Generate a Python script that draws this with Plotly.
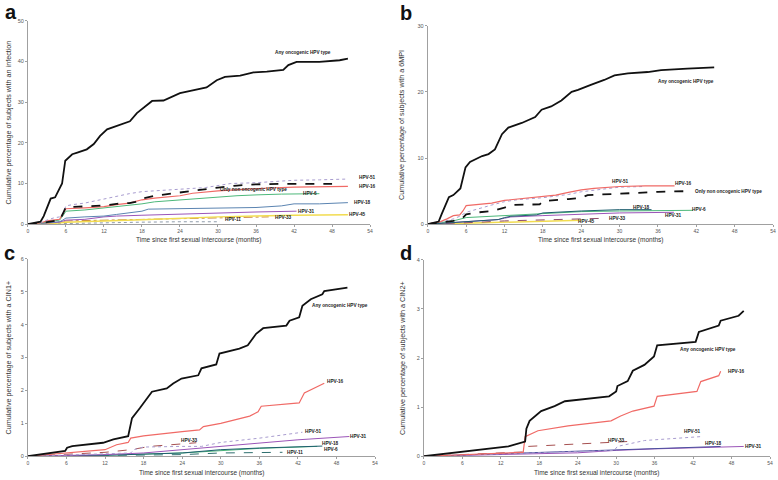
import plotly.graph_objects as go

# ---------------- Panel a: any infection ----------------
a_any_x = [0, 2, 2.5, 3, 3.6, 4.3, 4.9, 5.4, 5.9, 6.2, 7, 7.8, 9.3, 10.4, 11.4, 12.5, 13.5, 15.1, 16.1, 17.2, 18.8, 19.6, 21.4, 23, 24, 25.1, 28.2, 29.8, 31.1, 33.5, 35.6, 37.7, 40.3, 41.1, 42.4, 46, 49.2, 50.5]
a_any_y = [0, 0.6, 2, 4.2, 6.3, 6.6, 8.3, 10, 15.6, 16, 17.2, 17.6, 18.4, 19.7, 21.7, 23.3, 23.9, 24.7, 25.3, 27.3, 29.4, 30.3, 30.4, 31.4, 32.2, 32.6, 33.6, 35.4, 36.2, 36.5, 37.3, 37.5, 37.9, 39.1, 39.9, 39.9, 40.3, 40.7]
a_51_x = [0, 2, 3, 4, 5, 5.5, 6, 7, 9, 12, 14, 16, 18, 20, 24, 28, 30, 32, 36, 40, 42, 46, 50.5]
a_51_y = [0, 0.3, 1, 1.5, 1.8, 2.5, 4.5, 4.8, 5.2, 6.2, 7, 7.5, 8, 8.2, 8.5, 9, 9.5, 10, 10.2, 10.5, 10.8, 10.9, 11.1]
a_non_x = [0, 2, 3, 5, 5.5, 6, 8, 10, 12, 14, 16, 17, 18, 20, 22, 24, 26, 28, 30, 33, 36, 40, 48]
a_non_y = [0, 0.2, 0.5, 1, 2.5, 4.2, 4.3, 4.4, 4.6, 5, 5.2, 5.5, 6.3, 7, 7.4, 7.8, 8.3, 8.6, 9, 9.5, 9.8, 9.9, 9.9]
a_16_x = [0, 2, 3, 5, 5.5, 6, 9, 12, 14, 16, 18, 20, 24, 26, 30, 34, 38, 42, 46, 50.5]
a_16_y = [0, 0.3, 0.8, 1.2, 2.5, 3.8, 4, 4.3, 4.8, 5.2, 6, 6.4, 7, 7.6, 8.2, 8.6, 8.9, 9.1, 9.2, 9.3]
a_6_x = [0, 2, 3, 5, 5.5, 6, 9, 12, 16, 18, 20, 24, 27, 30, 33, 36, 40, 46]
a_6_y = [0, 0.2, 0.6, 1, 2, 3.2, 3.5, 4, 4.5, 5, 5.5, 6, 6.4, 6.8, 7, 7.2, 7.4, 7.5]
a_18_x = [0, 3, 5, 5.5, 6, 9, 12, 14, 16, 18, 19, 24, 30, 36, 40, 42, 46, 50.5]
a_18_y = [0, 0.3, 0.6, 1, 1.5, 1.8, 2, 2.4, 2.8, 3.2, 3.7, 3.8, 3.9, 4.1, 4.5, 5, 5, 5.3]
a_31_x = [0, 3, 5, 6, 9, 12, 14, 18, 24, 30, 36, 42.4]
a_31_y = [0, 0.2, 0.5, 1, 1.2, 1.8, 2, 2.2, 2.5, 2.8, 3, 3.2]
a_45_x = [0, 4, 6, 9, 12, 18, 24, 30, 36, 42, 50.5]
a_45_y = [0, 0.2, 0.5, 0.7, 0.8, 1.1, 1.5, 1.8, 2, 2.2, 2.3]
a_33_x = [0, 4, 6, 12, 18, 24, 30, 38]
a_33_y = [0, 0.3, 0.8, 1, 1.3, 1.5, 1.7, 1.8]
a_11_x = [0, 6, 12, 18, 24, 30.3]
a_11_y = [0, 0.2, 0.4, 0.5, 0.6, 0.6]

# ---------------- Panel b: 6MPI ----------------
b_any_x = [0, 1.7, 2.2, 3.3, 4, 5.1, 5.9, 6.6, 8.5, 9.5, 10.5, 11.6, 12.6, 14.7, 16.8, 17.8, 19.3, 20.9, 22.5, 23.5, 25.6, 27.6, 29.2, 31.3, 34.4, 36.5, 40.6, 44.8]
b_any_y = [0, 0.4, 1.6, 4.1, 4.4, 5.4, 8.6, 9.4, 10.3, 10.6, 11.3, 13.6, 14.6, 15.3, 16.2, 17.3, 17.8, 18.7, 20.0, 20.3, 21.1, 21.8, 22.5, 22.8, 23.0, 23.3, 23.5, 23.7]
b_16_x = [0, 2, 3, 4, 5, 5.5, 6, 8, 10, 12, 14, 16, 18, 20, 22, 24, 26, 30, 34, 38.6]
b_16_y = [0, 0.4, 0.8, 1.3, 1.4, 2, 2.8, 3, 3.2, 3.6, 3.8, 3.9, 4.1, 4.4, 4.8, 5.2, 5.4, 5.7, 5.8, 5.8]
b_51_x = [0, 2, 4, 5, 6, 8, 10, 12, 14, 18, 22, 24, 27, 30, 34]
b_51_y = [0, 0.3, 0.8, 1.2, 1.8, 2.4, 2.9, 3.4, 3.7, 4, 4.5, 4.9, 5.3, 5.6, 5.7]
b_non_x = [0, 2, 4, 5.5, 6, 8, 10, 12, 13, 17.5, 18, 22, 24, 25, 28, 32, 36, 41]
b_non_y = [0, 0.2, 0.5, 1, 1.5, 1.8, 2, 2.5, 2.9, 3, 3.5, 3.8, 4, 4.4, 4.5, 4.7, 4.9, 5]
b_6_x = [0, 2, 4, 6, 8, 10, 12, 18, 24, 30, 36, 41.5]
b_6_y = [0, 0.2, 0.5, 1, 1.1, 1.2, 1.4, 1.7, 1.9, 2, 2.1, 2.1]
b_18_x = [0, 3, 6, 9, 11, 12, 13, 17, 18, 24, 30, 35]
b_18_y = [0, 0.2, 0.4, 0.6, 0.7, 1, 1.2, 1.4, 1.7, 2, 2.2, 2.2]
b_31_x = [0, 3, 6, 9, 11, 12, 13, 18, 24, 30, 38.5]
b_31_y = [0, 0.2, 0.3, 0.5, 0.7, 0.9, 1.1, 1.3, 1.5, 1.7, 1.8]
b_33_x = [0, 4, 8, 12, 16, 20, 24, 28]
b_33_y = [0, 0.1, 0.3, 0.5, 0.6, 0.7, 0.8, 0.9]
b_45_x = [0, 4, 8, 12, 18, 24]
b_45_y = [0, 0.1, 0.2, 0.3, 0.5, 0.6]

# ---------------- Panel c: CIN1+ ----------------
c_any_x = [0, 5.8, 6.1, 6.9, 11.7, 13.3, 15.6, 16.2, 17.4, 18.5, 19.3, 21.6, 22.6, 23.9, 26.5, 27, 29.3, 29.8, 32.9, 34.2, 35.5, 36.6, 40.2, 40.7, 42.2, 42.7, 44, 45.8, 46.1, 49.7]
c_any_y = [0, 0.16, 0.26, 0.31, 0.41, 0.51, 0.61, 1.16, 1.46, 1.76, 1.96, 2.06, 2.21, 2.36, 2.46, 2.67, 2.79, 3.12, 3.27, 3.37, 3.72, 3.89, 3.97, 4.12, 4.22, 4.57, 4.77, 4.92, 5.02, 5.12]
c_16_x = [0, 12, 13.8, 15.6, 16, 18, 24, 26.7, 27.3, 30, 34.5, 35.8, 36.3, 42.2, 43, 46.1]
c_16_y = [0, 0.2, 0.35, 0.42, 0.55, 0.62, 0.75, 0.8, 0.9, 1.0, 1.22, 1.35, 1.52, 1.62, 1.92, 2.22]
c_51_x = [0, 16, 16.5, 18, 24, 27, 30, 36, 42.7]
c_51_y = [0, 0.1, 0.2, 0.28, 0.3, 0.3, 0.42, 0.55, 0.73]
c_31_x = [0, 12, 18, 24, 30, 36, 42, 50]
c_31_y = [0, 0.05, 0.1, 0.2, 0.3, 0.4, 0.5, 0.6]
c_33_x = [0, 12, 16, 18, 19, 26.2]
c_33_y = [0, 0.12, 0.2, 0.28, 0.3, 0.41]
c_18_x = [0, 12, 24, 30, 36, 45.8]
c_18_y = [0, 0.03, 0.1, 0.2, 0.25, 0.31]
c_6_x = [0, 12, 24, 30, 36, 45]
c_6_y = [0, 0.03, 0.1, 0.18, 0.24, 0.3]
c_11_x = [0, 12, 24, 30, 39.6]
c_11_y = [0, 0.02, 0.05, 0.1, 0.12]

# ---------------- Panel d: CIN2+ ----------------
d_any_x = [0, 13.2, 15.8, 16, 16.5, 18.3, 20.4, 22, 28.9, 30, 30.2, 31.8, 32.6, 34.4, 35.9, 36.4, 42.4, 42.9, 46, 46.3, 49.1, 49.9]
d_any_y = [0, 0.2, 0.3, 0.56, 0.72, 0.92, 1.02, 1.12, 1.22, 1.32, 1.43, 1.53, 1.74, 1.86, 2.03, 2.26, 2.33, 2.53, 2.66, 2.76, 2.86, 2.96]
d_16_x = [0, 15.5, 15.8, 17.8, 22.5, 29.2, 30.7, 32.6, 35.9, 36.4, 42.6, 43.2, 46, 46.3]
d_16_y = [0, 0.08, 0.4, 0.52, 0.62, 0.72, 0.82, 0.92, 1.02, 1.22, 1.32, 1.52, 1.64, 1.73]
d_51_x = [0, 29.7, 30.2, 34.4, 43.2]
d_51_y = [0, 0.12, 0.2, 0.32, 0.4]
d_33_x = [0, 15.8, 16.2, 31.8]
d_33_y = [0, 0.09, 0.2, 0.3]
d_18_x = [0, 12, 24, 36, 46.3]
d_18_y = [0, 0.05, 0.1, 0.15, 0.2]
d_31_x = [0, 12, 24, 30, 36, 49.9]
d_31_y = [0, 0.03, 0.07, 0.12, 0.15, 0.2]

# ---------------- Labels ----------------
a_lab_text = ["Any oncogenic HPV type", "HPV-51", "HPV-16", "Only non oncogenic HPV type", "HPV-6", "HPV-18", "HPV-31", "HPV-45", "HPV-33", "HPV-11"]
a_lab_x = [43.4, 53.6, 53.6, 35.6, 44.5, 52.8, 43.9, 52.0, 40.3, 32.4]
a_lab_y = [42.2, 11.6, 9.3, 8.6, 7.5, 5.3, 3.2, 2.4, 1.7, 1.05]
b_lab_text = ["Any oncogenic HPV type", "HPV-51", "HPV-16", "Only non oncogenic HPV type", "HPV-18", "HPV-6", "HPV-31", "HPV-33", "HPV-45"]
b_lab_x = [40.4, 30.2, 40.0, 47.0, 33.4, 42.5, 38.5, 29.6, 24.8]
b_lab_y = [21.6, 6.4, 6.1, 5.0, 2.6, 2.2, 1.25, 0.9, 0.4]
c_lab_text = ["Any oncogenic HPV type", "HPV-16", "HPV-51", "HPV-31", "HPV-33", "HPV-18", "HPV-6", "HPV-11"]
c_lab_x = [48.5, 47.8, 44.5, 51.5, 25.2, 47.1, 47.1, 41.5]
c_lab_y = [4.57, 2.26, 0.74, 0.61, 0.48, 0.38, 0.21, 0.11]
d_lab_text = ["Any oncogenic HPV type", "HPV-16", "HPV-51", "HPV-33", "HPV-18", "HPV-31"]
d_lab_x = [44.4, 48.7, 41.9, 30.1, 45.2, 51.5]
d_lab_y = [2.18, 1.73, 0.5, 0.33, 0.25, 0.19]

x_ticks = [0, 6, 12, 18, 24, 30, 36, 42, 48, 54]
x_title = "Time since first sexual intercourse (months)"
y_titles = ["Cumulative percentage of subjects with an infection",
            "Cumulative percentage of subjects with a 6MPI",
            "Cumulative percentage of subjects with a CIN1+",
            "Cumulative percentage of subjects with a CIN2+"]
y_max = [50, 30, 6, 4]
y_dtick = [10, 10, 1, 1]
panel_letters = ["a", "b", "c", "d"]

FONT = "Liberation Sans, Arial, sans-serif"
BLACK = "#111111"
RED = "#F06A66"
LAV = "#A89CCF"
GREEN = "#4DB87A"
PURPLE = "#9B55B8"
YELLOW = "#F2DC50"

W, H = 778, 480
fig = go.Figure()

def add(xs, ys, axis, color, width=1.0, dash="solid"):
    fig.add_trace(go.Scatter(x=xs, y=ys, mode="lines", xaxis="x" + axis, yaxis="y" + axis,
                             line=dict(color=color, width=width, dash=dash),
                             showlegend=False, hoverinfo="skip"))

# panel a
add(a_11_x, a_11_y, "", "#8F9BAA", 1.0, "dot")
add(a_33_x, a_33_y, "", "#C8843A", 1.0, "dashdot")
add(a_45_x, a_45_y, "", YELLOW, 1.5)
add(a_31_x, a_31_y, "", PURPLE, 1.0)
add(a_18_x, a_18_y, "", "#5B84B1", 1.0)
add(a_6_x, a_6_y, "", GREEN, 1.0)
add(a_16_x, a_16_y, "", RED, 1.2)
add(a_51_x, a_51_y, "", LAV, 1.0, "dot")
add(a_non_x, a_non_y, "", BLACK, 1.8, "dash")
add(a_any_x, a_any_y, "", BLACK, 1.8)
# panel b
add(b_45_x, b_45_y, "2", YELLOW, 1.5)
add(b_33_x, b_33_y, "2", "#8E4A6A", 1.0, "dash")
add(b_31_x, b_31_y, "2", PURPLE, 1.0)
add(b_6_x, b_6_y, "2", GREEN, 1.0)
add(b_18_x, b_18_y, "2", "#1E5E6E", 1.0)
add(b_51_x, b_51_y, "2", LAV, 1.0, "dot")
add(b_16_x, b_16_y, "2", RED, 1.2)
add(b_non_x, b_non_y, "2", BLACK, 1.8, "dash")
add(b_any_x, b_any_y, "2", BLACK, 1.8)
# panel c
add(c_11_x, c_11_y, "3", "#2F6F6F", 1.0, "dash")
add(c_6_x, c_6_y, "3", GREEN, 1.0)
add(c_18_x, c_18_y, "3", "#1E5E6E", 1.0)
add(c_33_x, c_33_y, "3", "#A65050", 1.0, "dash")
add(c_31_x, c_31_y, "3", PURPLE, 1.0)
add(c_51_x, c_51_y, "3", LAV, 1.0, "dot")
add(c_16_x, c_16_y, "3", RED, 1.2)
add(c_any_x, c_any_y, "3", BLACK, 1.8)
# panel d
add(d_31_x, d_31_y, "4", PURPLE, 1.0)
add(d_18_x, d_18_y, "4", "#4B4F9E", 1.0)
add(d_33_x, d_33_y, "4", "#A65050", 1.0, "dash")
add(d_51_x, d_51_y, "4", LAV, 1.0, "dot")
add(d_16_x, d_16_y, "4", RED, 1.2)
add(d_any_x, d_any_y, "4", BLACK, 1.8)

# panel pixel boxes: (left, right, top, bottom)
boxes = [(27, 371, 18, 224), (429, 776, 23, 224), (27, 376, 259, 459), (425, 773, 260, 459)]
xtitle_y = [239.5, 239.5, 475.5, 475.5]
ytitle_x = [8, 403, 8, 403]
letter_pos = [(10, 9), (407, 10), (9, 253), (407, 253)]

layout = dict(width=W, height=H, margin=dict(l=0, r=0, t=0, b=0),
              paper_bgcolor="white", plot_bgcolor="white",
              font=dict(family=FONT, color="#444444"))
annotations = []
for i, (l, r, t, b) in enumerate(boxes):
    sfx = "" if i == 0 else str(i + 1)
    layout["xaxis" + sfx] = dict(domain=[l / W, r / W], anchor="y" + sfx, range=[0, 54],
                                 tickvals=x_ticks, showgrid=False, zeroline=False,
                                 showline=True, linecolor="#A0A0A0", linewidth=1,
                                 ticks="outside", ticklen=2, tickcolor="#A0A0A0",
                                 tickfont=dict(size=5, color="#555555"))
    layout["yaxis" + sfx] = dict(domain=[1 - b / H, 1 - t / H], anchor="x" + sfx,
                                 range=[0, y_max[i]], dtick=y_dtick[i], showgrid=False,
                                 zeroline=False, showline=True, linecolor="#A0A0A0", linewidth=1,
                                 ticks="outside", ticklen=2, tickcolor="#A0A0A0",
                                 tickfont=dict(size=5.5, color="#555555"))
    annotations.append(dict(text=x_title, xref="paper", yref="paper",
                            x=(l + r) / 2 / W, y=1 - xtitle_y[i] / H, showarrow=False,
                            xanchor="center", yanchor="middle",
                            font=dict(size=6.5, color="#333333")))
    annotations.append(dict(text=y_titles[i], xref="paper", yref="paper",
                            x=ytitle_x[i] / W, y=1 - (t + b) / 2 / H, showarrow=False,
                            textangle=-90, xanchor="center", yanchor="middle",
                            font=dict(size=7.2, color="#333333")))
    lx, ly = letter_pos[i]
    annotations.append(dict(text="<b>" + panel_letters[i] + "</b>", xref="paper", yref="paper",
                            x=lx / W, y=1 - ly / H, showarrow=False,
                            xanchor="center", yanchor="middle",
                            font=dict(size=20, color="#111111")))

for sfx, texts, xs, ys in [("", a_lab_text, a_lab_x, a_lab_y), ("2", b_lab_text, b_lab_x, b_lab_y),
                           ("3", c_lab_text, c_lab_x, c_lab_y), ("4", d_lab_text, d_lab_x, d_lab_y)]:
    for tx, xx, yy in zip(texts, xs, ys):
        annotations.append(dict(text="<b>" + tx + "</b>", xref="x" + sfx, yref="y" + sfx,
                                x=xx, y=yy, showarrow=False, xanchor="center", yanchor="middle",
                                font=dict(size=4.7, color="#222222")))

layout["annotations"] = annotations
fig.update_layout(**layout)
fig.write_html("out.html", config={"displayModeBar": False},
               post_script="document.body.style.margin='0';document.body.style.overflow='hidden';")
